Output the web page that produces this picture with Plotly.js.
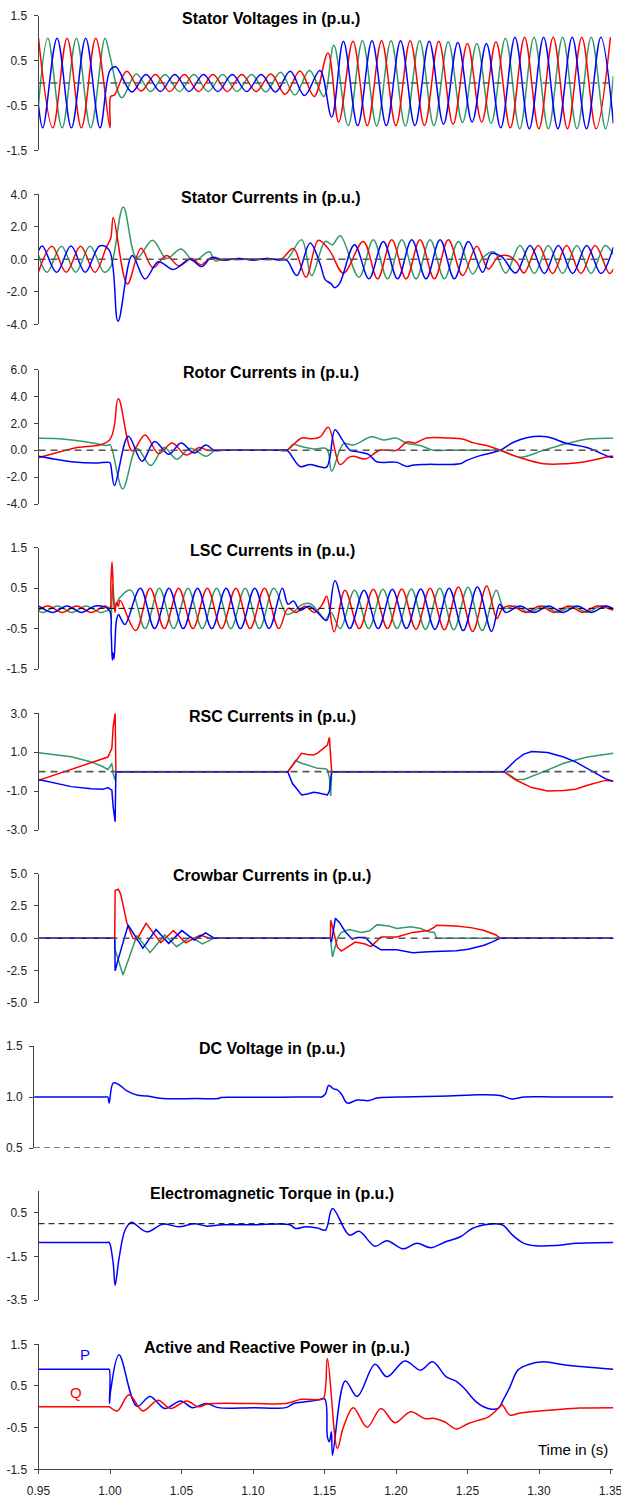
<!DOCTYPE html>
<html><head><meta charset="utf-8">
<script src="https://cdn.plot.ly/plotly-3.0.1.min.js"></script>
<style>html,body{margin:0;padding:0;background:#fff}#chart{width:621px;height:1501px}</style>
</head><body><div id="chart"></div>
<script>
// ---------- DATA ----------
const xTickVals = [0.95,1.00,1.05,1.10,1.15,1.20,1.25,1.30,1.35];
const xTickText = ['0.95','1.00','1.05','1.10','1.15','1.20','1.25','1.30','1.35'];

// Stator voltages
const svRedT = [0.950,0.960,0.970,0.980,0.990,1.000,1.0005,1.003,1.0117,1.0217,1.0318,1.0418,1.052,1.062,1.072,1.082,1.0922,1.1022,1.1125,1.1225,1.1328,1.1428,1.1524,1.1599,1.1699,1.1799,1.1899,1.1999,1.2099,1.2199,1.2299,1.2399,1.2499,1.2599,1.2699,1.2799,1.2899,1.2999,1.3099,1.3199,1.3299,1.3399,1.3499];
const svRedV = [1.0,-1.0,1.0,-1.0,1.0,-1.0,-0.3,-0.27,0.26,-0.18,0.19,-0.19,0.19,-0.19,0.19,-0.19,0.19,-0.19,0.2,-0.25,0.27,-0.3,0.67,-0.87,0.93,-0.95,0.94,-0.95,0.94,-0.95,0.93,-0.92,0.88,-0.87,0.92,-1.0,1.02,-1.02,1.02,-1.02,1.02,-1.02,1.02];
const svBlueT = [0.950,0.953,0.963,0.973,0.983,0.993,1.0,1.004,1.0152,1.0252,1.0352,1.0453,1.0553,1.0654,1.0754,1.0855,1.0955,1.1057,1.1158,1.126,1.136,1.1468,1.155,1.1632,1.1732,1.1832,1.1932,1.2032,1.2132,1.2232,1.2332,1.2432,1.2532,1.2632,1.2732,1.2832,1.2932,1.3032,1.3132,1.3232,1.3332,1.3432,1.352];
const svBlueV = [-0.5,-1.0,1.0,-1.0,1.0,-1.0,0.28,0.36,-0.2,0.19,-0.19,0.19,-0.19,0.19,-0.19,0.19,-0.19,0.19,-0.2,0.26,-0.28,0.28,-0.76,0.93,-0.95,0.94,-0.95,0.94,-0.95,0.93,-0.92,0.9,-0.87,0.88,-1.0,1.02,-1.02,1.02,-1.02,1.02,-1.02,1.02,-0.9];
const svGreenT = [0.950,0.9565,0.9665,0.9765,0.9865,0.9965,1.0,1.0082,1.0184,1.0284,1.0385,1.0485,1.0587,1.0687,1.0788,1.0888,1.099,1.109,1.1192,1.1292,1.1395,1.1495,1.1565,1.1665,1.1765,1.1865,1.1965,1.2065,1.2165,1.2265,1.2365,1.2465,1.2565,1.2665,1.2765,1.2865,1.2965,1.3065,1.3165,1.3265,1.3365,1.3465,1.352];
const svGreenV = [-0.5,1.0,-1.0,1.0,-1.0,1.0,0.6,-0.33,0.2,-0.19,0.19,-0.19,0.19,-0.19,0.19,-0.19,0.19,-0.2,0.24,-0.27,0.28,-0.3,0.84,-0.95,0.94,-0.96,0.94,-0.96,0.94,-0.95,0.92,-0.88,0.88,-0.9,1.0,-1.02,1.02,-1.02,1.02,-1.02,1.02,-1.02,0.16];

// Stator currents
const siRedT = [0.950,0.9594,0.9694,0.9794,0.9894,0.9975,1.0005,1.0023,1.0121,1.0217,1.030,1.0395,1.048,1.057,1.0634,1.070,1.080,1.090,1.100,1.110,1.1195,1.1283,1.137,1.1457,1.1535,1.1632,1.1771,1.1871,1.197,1.207,1.2168,1.2268,1.2366,1.2466,1.2564,1.2645,1.2715,1.279,1.2845,1.2895,1.2995,1.3095,1.3193,1.3293,1.3392,1.3492,1.352];
const siRedV = [-0.78,0.8,-0.8,0.8,-0.8,0.75,1.3,2.58,-1.52,0.68,-0.52,0.23,-0.4,0.05,-0.35,0.05,-0.05,0.05,-0.05,0.05,0.0,0.66,-1.1,1.17,0.55,-0.85,1.1,-1.2,1.2,-1.2,1.2,-1.2,1.2,-1.0,0.8,-0.6,0.15,0.2,-0.2,-0.85,0.85,-0.87,0.85,-0.87,0.85,-0.87,-0.6];
const siBlueT = [0.950,0.9527,0.9627,0.9727,0.9827,0.9927,0.9995,1.0056,1.0155,1.0245,1.0338,1.0443,1.0559,1.0641,1.0711,1.080,1.090,1.100,1.110,1.1195,1.1236,1.1306,1.1399,1.147,1.1505,1.1545,1.157,1.1605,1.171,1.1811,1.1911,1.2011,1.211,1.221,1.2308,1.2408,1.2506,1.2606,1.2665,1.274,1.2837,1.2937,1.3037,1.3135,1.3235,1.3333,1.3433,1.352];
const siBlueV = [0.53,0.82,-0.8,0.82,-0.8,0.82,0.55,-3.81,0.23,-1.21,-0.15,-0.63,0.0,-0.45,0.12,-0.05,0.05,-0.05,0.05,-0.05,-0.05,-1.0,1.0,-0.3,-1.25,-1.5,-1.75,-1.5,0.9,-1.2,1.1,-1.2,1.2,-1.2,1.2,-1.2,1.1,-0.8,0.35,0.15,-0.85,0.85,-0.87,0.85,-0.87,0.85,-0.87,0.75];
const siGreenT = [0.950,0.956,0.966,0.976,0.986,0.996,1.0005,1.0093,1.0187,1.0298,1.0395,1.0497,1.0585,1.0695,1.0735,1.080,1.090,1.100,1.110,1.1195,1.1236,1.134,1.141,1.1505,1.1555,1.161,1.1741,1.1841,1.1941,1.204,1.214,1.2238,1.2338,1.2436,1.2536,1.2606,1.2685,1.2767,1.2867,1.2967,1.3065,1.3165,1.3264,1.3364,1.3462,1.352];
const siGreenV = [0.25,-0.8,0.8,-0.8,0.8,-0.8,-0.45,3.22,0.08,1.17,0.05,0.64,-0.1,0.46,-0.1,0.03,-0.03,0.03,-0.03,0.03,0.0,1.21,-1.0,1.1,0.9,1.45,-1.1,1.2,-1.2,1.2,-1.2,1.2,-1.2,1.1,-0.9,0.1,0.45,-0.85,0.85,-0.87,0.85,-0.87,0.85,-0.87,0.85,0.3];

// Rotor currents
const rcRedT = [0.95,0.9745,0.9995,1.0058,1.0155,1.0245,1.034,1.0434,1.0532,1.0625,1.068,1.075,1.10,1.118,1.1236,1.134,1.141,1.1469,1.1527,1.1608,1.1667,1.1702,1.1784,1.1888,1.2005,1.2075,1.2133,1.2215,1.2355,1.2471,1.2541,1.2634,1.2728,1.2867,1.3031,1.3194,1.3311,1.3497,1.352];
const rcRedV = [-0.55,0.15,0.75,3.83,-0.05,1.14,-0.25,0.55,-0.35,0.2,0.0,0.0,0.0,0.0,0.0,0.92,0.85,1.0,1.71,-1.06,-0.55,-0.45,-0.65,0.0,0.0,0.62,0.55,0.92,0.92,0.82,0.55,0.35,0.0,-0.55,-1.0,-1.0,-0.87,-0.45,-0.42];
const rcBlueT = [0.95,0.975,0.99,0.9995,1.0003,1.0031,1.0128,1.0224,1.0312,1.0411,1.0497,1.059,1.067,1.0727,1.08,1.10,1.118,1.1236,1.1329,1.1399,1.1457,1.1515,1.1573,1.162,1.1679,1.1725,1.1807,1.1865,1.2005,1.2075,1.2122,1.2215,1.2448,1.2495,1.2588,1.2728,1.2821,1.2914,1.3054,1.3194,1.3334,1.3497,1.352];
const rcBlueV = [-0.45,-0.88,-0.95,-0.9,-1.0,-2.63,1.04,-0.82,0.66,-0.3,0.55,-0.2,0.4,0.0,0.0,0.0,0.0,0.0,-1.21,-1.05,-1.2,-1.25,1.52,0.85,0.0,-0.1,-0.3,-0.85,-0.9,-1.2,-1.1,-1.05,-1.0,-0.75,-0.4,0.0,0.6,0.94,1.0,0.5,0.2,-0.5,-0.52];
const rcGreenT = [0.95,0.962,0.975,0.99,0.998,1.0,1.0089,1.0187,1.0285,1.0378,1.0467,1.056,1.0673,1.0735,1.08,1.10,1.118,1.1236,1.1282,1.1329,1.1422,1.1515,1.155,1.1632,1.1702,1.183,1.1912,1.2005,1.2075,1.2168,1.2262,1.235,1.265,1.2728,1.2867,1.3031,1.3194,1.3357,1.352];
const rcGreenV = [0.9,0.88,0.75,0.5,0.35,0.42,-2.88,0.15,-1.13,0.2,-0.66,0.15,-0.45,0.0,0.0,0.0,0.0,0.0,0.45,0.3,0.1,0.1,-1.56,0.47,0.4,1.0,0.77,0.9,0.52,0.35,0.0,0.0,0.0,0.0,-0.52,0.0,0.5,0.85,0.9];

// LSC currents
const lscRedT = [0.95,0.9567,0.9667,0.9767,0.9867,0.9967,0.9998,1.0006,1.0014,1.0025,1.0035,1.0045,1.0058,1.007,1.018,1.028,1.038,1.048,1.058,1.068,1.078,1.088,1.098,1.108,1.118,1.1245,1.13,1.1365,1.143,1.1485,1.1515,1.1567,1.1643,1.1743,1.1841,1.1941,1.204,1.214,1.2238,1.2338,1.2436,1.2536,1.2634,1.2705,1.2745,1.2807,1.2907,1.3007,1.3107,1.3207,1.3307,1.3407,1.352];
const lscRedV = [-0.04,0.06,-0.1,0.06,-0.1,0.06,0.0,0.6,1.15,0.3,-0.1,0.15,0.05,0.2,-0.55,0.5,-0.5,0.5,-0.5,0.5,-0.5,0.5,-0.5,0.5,-0.5,0.0,-0.1,0.05,-0.1,0.1,0.3,-0.58,0.45,-0.5,0.47,-0.5,0.48,-0.52,0.5,-0.53,0.53,-0.57,0.55,-0.25,0.0,0.06,-0.1,0.06,-0.1,0.06,-0.1,0.06,-0.05];
const lscBlueT = [0.95,0.96,0.97,0.98,0.99,0.9995,1.0008,1.0016,1.002,1.0028,1.0045,1.006,1.0075,1.0105,1.0212,1.0312,1.0412,1.0512,1.0612,1.0712,1.0812,1.0912,1.1012,1.1112,1.1205,1.1245,1.1282,1.133,1.139,1.145,1.1515,1.1573,1.1676,1.1776,1.1875,1.1974,1.2073,1.2173,1.2272,1.2371,1.247,1.2569,1.2668,1.2725,1.2767,1.2867,1.2967,1.3067,1.3167,1.3267,1.3367,1.3467,1.352];
const lscBlueV = [0.06,-0.1,0.06,-0.1,0.06,-0.05,-0.6,-1.28,-1.1,-1.25,-0.3,-0.15,-0.25,-0.4,0.5,-0.5,0.5,-0.5,0.5,-0.5,0.5,-0.5,0.5,-0.5,0.5,0.1,0.18,-0.05,0.05,-0.1,-0.3,0.68,-0.5,0.45,-0.5,0.47,-0.5,0.48,-0.52,0.5,-0.55,0.53,-0.57,0.1,-0.1,0.06,-0.1,0.06,-0.1,0.06,-0.1,0.06,-0.02];
const lscGreenT = [0.95,0.9533,0.9633,0.9733,0.9833,0.9933,1.0,1.0008,1.0018,1.0032,1.0045,1.0065,1.0145,1.0245,1.0345,1.0445,1.0545,1.0645,1.0745,1.0845,1.0945,1.1045,1.1145,1.1236,1.128,1.1335,1.1395,1.145,1.1505,1.1545,1.161,1.171,1.1809,1.1908,1.2007,1.2107,1.2206,1.2305,1.2404,1.2503,1.2602,1.2701,1.2755,1.2833,1.2933,1.3033,1.3133,1.3233,1.3333,1.3433,1.352];
const lscGreenV = [-0.06,-0.1,0.06,-0.1,0.06,-0.1,-0.05,-0.25,0.59,0.05,0.1,0.25,0.45,-0.5,0.5,-0.5,0.5,-0.5,0.5,-0.5,0.5,-0.5,0.5,-0.15,-0.1,0.08,0.12,-0.05,-0.28,-0.1,-0.5,0.45,-0.5,0.47,-0.5,0.48,-0.52,0.5,-0.53,0.52,-0.55,0.45,0.0,0.06,-0.1,0.06,-0.1,0.06,-0.1,0.06,0.0];

// RSC currents
const rscRedT = [0.95,0.973,0.9985,1.0013,1.0022,1.0036,1.0041,1.1243,1.134,1.1381,1.1423,1.1451,1.1506,1.152,1.1534,1.155,1.2755,1.2838,1.2949,1.306,1.3172,1.3255,1.3338,1.3463,1.352];
const rscRedV = [-0.45,0.1,0.75,1.2,2.3,3.0,0.0,0.0,0.94,0.88,0.86,0.95,1.3,1.37,1.76,0.0,0.0,-0.43,-0.82,-1.0,-0.97,-0.9,-0.7,-0.45,-0.48];
const rscBlueT = [0.95,0.973,0.9869,0.9952,0.9985,1.0013,1.0022,1.0036,1.0041,1.1243,1.1275,1.134,1.1381,1.1423,1.1451,1.1506,1.152,1.1534,1.155,1.2755,1.2838,1.2894,1.2949,1.306,1.3172,1.3255,1.3338,1.3463,1.352];
const rscBlueV = [-0.4,-0.77,-0.88,-0.91,-0.82,-0.95,-1.8,-2.57,0.0,0.0,-0.6,-1.2,-1.15,-1.06,-1.08,-1.2,-1.2,-1.0,0.0,0.0,0.6,0.9,1.03,0.98,0.75,0.5,0.15,-0.36,-0.5];
const rscGreenT = [0.95,0.973,0.9869,0.9952,0.9985,1.0013,1.0022,1.0036,1.0041,1.1243,1.1298,1.134,1.1381,1.1451,1.1506,1.152,1.1534,1.1543,1.155,1.2755,1.2838,1.2894,1.3033,1.3172,1.3338,1.352];
const rscGreenV = [0.97,0.77,0.5,0.25,0.1,0.43,-0.1,-0.45,0.0,0.0,0.57,0.43,0.34,0.17,0.15,0.1,-0.3,-1.25,0.0,0.0,-0.39,-0.4,0.0,0.43,0.75,0.95];

// Crowbar currents
const cbRedT = [0.95,1.0033,1.0036,1.0058,1.0075,1.0095,1.0118,1.016,1.0188,1.0252,1.0355,1.0443,1.0529,1.0632,1.0695,1.1541,1.1543,1.1553,1.159,1.1618,1.1673,1.1715,1.1784,1.1825,1.1895,1.2006,1.2117,1.2228,1.2269,1.2283,1.2422,1.2533,1.2616,1.2699,1.2727,1.352];
const cbRedV = [0.0,0.0,3.7,3.8,3.4,2.4,1.2,0.0,-0.1,1.15,-0.35,0.6,-0.35,0.25,0.0,0.0,1.4,1.0,-0.7,-1.0,-0.6,-0.3,-0.45,-0.65,0.1,0.1,0.45,0.6,0.85,1.0,0.95,0.8,0.6,0.25,0.0,0.0];
const cbBlueT = [0.95,1.0033,1.0036,1.0058,1.0127,1.023,1.0322,1.041,1.0502,1.059,1.0668,1.0729,1.1541,1.1548,1.1576,1.1605,1.1645,1.1694,1.1728,1.1785,1.1835,1.1895,1.2006,1.2117,1.2228,1.2422,1.2505,1.2616,1.267,1.2727,1.352];
const cbBlueV = [0.0,0.0,-2.52,-1.6,1.02,-0.78,0.67,-0.4,0.59,-0.15,0.41,0.0,0.0,-0.3,1.54,1.2,0.5,-0.08,0.05,0.05,-0.5,-0.9,-0.9,-1.12,-1.05,-0.98,-0.85,-0.55,-0.3,0.0,0.0];
const cbGreenT = [0.95,1.0033,1.0036,1.0091,1.0188,1.028,1.0383,1.0466,1.0563,1.0646,1.0729,1.1541,1.1556,1.159,1.1618,1.1673,1.1757,1.1812,1.1868,1.195,1.2006,1.2103,1.2172,1.2228,1.2269,1.2283,1.352];
const cbGreenV = [0.0,0.0,-0.9,-2.85,0.2,-1.12,0.25,-0.66,0.1,-0.45,0.0,0.0,-1.45,0.0,0.45,0.67,0.45,0.55,1.05,0.95,0.75,0.88,0.75,0.5,0.45,0.0,0.0];

// DC voltage
const dcT = [0.947,0.99,0.997,0.9985,0.9994,1.0022,1.0063,1.0119,1.0188,1.0257,1.0369,1.06,1.0757,1.0775,1.09,1.109,1.13,1.145,1.1478,1.1506,1.1529,1.1562,1.159,1.1618,1.1659,1.1728,1.1811,1.1866,1.2006,1.2366,1.2533,1.2727,1.2811,1.2838,1.29,1.31,1.352];
const dcV = [1.0,1.0,1.0,1.0,0.94,1.137,1.12,1.06,1.02,1.01,0.985,0.985,0.985,0.995,0.997,0.998,0.999,1.0,1.0,1.03,1.114,1.08,1.07,1.03,0.94,0.97,0.965,0.99,1.0,1.01,1.02,1.015,0.98,0.985,1.0,1.0,1.0];

// Electromagnetic torque
const teT = [0.95,0.99,0.998,0.9994,1.0022,1.0036,1.0063,1.0105,1.0147,1.0161,1.0257,1.0369,1.048,1.0591,1.0674,1.0785,1.10,1.1257,1.1298,1.1368,1.1451,1.1506,1.1556,1.1673,1.1742,1.1853,1.1936,1.2048,1.2145,1.2242,1.2339,1.245,1.2533,1.2644,1.2727,1.2755,1.2811,1.2894,1.2977,1.3116,1.3255,1.352];
const teV = [-0.86,-0.86,-0.86,-0.86,-1.8,-2.82,-1.6,-0.3,0.06,0.05,-0.37,-0.02,-0.14,0.0,-0.11,-0.05,-0.05,-0.05,-0.22,-0.14,-0.2,-0.29,0.7,-0.52,-0.35,-1.03,-0.78,-1.15,-0.9,-1.1,-0.85,-0.6,-0.22,-0.03,-0.02,-0.1,-0.5,-0.9,-1.01,-1.0,-0.9,-0.86];

// Active (P) and reactive (Q) power
const pT = [0.95,0.99,0.998,0.9994,0.9996,1.0005,1.0063,1.0188,1.028,1.0383,1.0494,1.0577,1.0674,1.0757,1.10,1.1229,1.1285,1.1368,1.1451,1.1501,1.152,1.1534,1.1548,1.1556,1.1645,1.1728,1.1853,1.1936,1.2062,1.2172,1.2255,1.2352,1.2422,1.2478,1.2561,1.2644,1.2713,1.2755,1.2797,1.2852,1.2922,1.3033,1.3172,1.331,1.352];
const pV = [0.9,0.9,0.9,0.9,0.08,0.4,1.25,0.01,0.25,-0.04,0.14,-0.02,0.08,-0.02,-0.02,-0.02,0.08,0.12,0.16,0.19,-0.72,-0.84,-0.6,-1.16,0.62,0.25,1.02,0.72,1.1,0.88,1.08,0.72,0.61,0.44,0.12,-0.04,-0.04,0.2,0.48,0.88,1.01,1.08,1.01,0.96,0.9];
const qT = [0.95,0.99,0.998,0.9994,1.005,1.0133,1.023,1.0335,1.0424,1.0535,1.0618,1.0674,1.0729,1.10,1.1229,1.134,1.1451,1.1492,1.152,1.159,1.1631,1.1701,1.1798,1.1895,1.1992,1.2103,1.22,1.2269,1.2339,1.2422,1.2506,1.2589,1.2644,1.2727,1.2741,1.2797,1.2866,1.3005,1.3116,1.3283,1.352];
const qV = [0.0,0.0,0.0,0.0,-0.1,0.29,-0.1,0.16,-0.04,0.14,0.0,0.06,0.08,0.08,0.08,0.18,0.17,0.2,1.16,-1.0,-0.5,-0.02,-0.49,-0.04,-0.38,-0.12,-0.28,-0.28,-0.36,-0.53,-0.4,-0.31,-0.25,0.0,0.05,-0.2,-0.15,-0.1,-0.07,-0.03,-0.02];

// ---------- LAYOUT / DRAWING ----------
const RED = '#ff0000', BLUE = '#0000ff', GREEN = '#339966';
const W = 621, H = 1501;
const X0 = 38.5, X1 = 613.4, PXS = 1430;
const fy = p => 1 - p / H;

const panels = [
  {title:'Stator Voltages in (p.u.)', top:15.7, bot:150.3, range:[-1.5,1.5], tv:[1.5,0.5,-0.5,-1.5], tt:['1.5','0.5','-0.5','-1.5'], ref:0, refStyle:'g', ty:18.5, tx:271,
   series:[[svGreenT,svGreenV,GREEN],[svRedT,svRedV,RED],[svBlueT,svBlueV,BLUE]], shape:'spline'},
  {title:'Stator Currents in (p.u.)', top:194.3, bot:324.3, range:[-4,4], tv:[4,2,0,-2,-4], tt:['4.0','2.0','0.0','-2.0','-4.0'], ref:0, refStyle:'g', ty:197, tx:271,
   series:[[siGreenT,siGreenV,GREEN],[siRedT,siRedV,RED],[siBlueT,siBlueV,BLUE]], shape:'spline'},
  {title:'Rotor Currents in (p.u.)', top:369.7, bot:504, range:[-4,6], tv:[6,4,2,0,-2,-4], tt:['6.0','4.0','2.0','0.0','-2.0','-4.0'], ref:0, refStyle:'g', ty:372, tx:271,
   series:[[rcGreenT,rcGreenV,GREEN],[rcRedT,rcRedV,RED],[rcBlueT,rcBlueV,BLUE]], shape:'spline'},
  {title:'LSC Currents in (p.u.)', top:547.7, bot:669, range:[-1.5,1.5], tv:[1.5,0.5,-0.5,-1.5], tt:['1.5','0.5','-0.5','-1.5'], ref:0, refStyle:'k', ty:551, tx:272,
   series:[[lscGreenT,lscGreenV,GREEN],[lscRedT,lscRedV,RED],[lscBlueT,lscBlueV,BLUE]], shape:'spline'},
  {title:'RSC Currents in (p.u.)', top:713.3, bot:830, range:[-3,3], tv:[3,1,-1,-3], tt:['3.0','1.0','-1.0','-3.0'], ref:0, refStyle:'g', ty:716, tx:272,
   series:[[rscGreenT,rscGreenV,GREEN],[rscRedT,rscRedV,RED],[rscBlueT,rscBlueV,BLUE]], shape:'linear'},
  {title:'Crowbar Currents in (p.u.)', top:873.7, bot:1002.7, range:[-5,5], tv:[5,2.5,0,-2.5,-5], tt:['5.0','2.5','0.0','-2.5','-5.0'], ref:0, refStyle:'g', ty:876, tx:272,
   series:[[cbGreenT,cbGreenV,GREEN],[cbRedT,cbRedV,RED],[cbBlueT,cbBlueV,BLUE]], shape:'linear'},
  {title:'DC Voltage in (p.u.)', top:1046, bot:1148, range:[0.5,1.5], tv:[1.5,1.0,0.5], tt:['1.5','1.0','0.5'], ref:0.5, refStyle:'k', ty:1048.5, tx:272,
   series:[[dcT,dcV,BLUE]], shape:'spline', xa:'x2'},
  {title:'Electromagnetic Torque in (p.u.)', top:1191, bot:1300, range:[-3.5,1.5], tv:[0.5,-1.5,-3.5], tt:['0.5','-1.5','-3.5'], ref:0, refStyle:'k', ty:1193.5, tx:272,
   series:[[teT,teV,BLUE]], shape:'spline'},
  {title:'Active and Reactive Power in (p.u.)', top:1344.3, bot:1469.3, range:[-1.5,1.5], tv:[1.5,0.5,-0.5,-1.5], tt:['1.5','0.5','-0.5','-1.5'], ref:null, ty:1347, tx:277,
   series:[[pT,pV,BLUE],[qT,qV,RED]], shape:'spline'}
];

const traces = [];
const AX = '#444';
const DCX0 = 34;
const layout = {
  width: W, height: H,
  margin: {l:0, r:0, t:0, b:0},
  paper_bgcolor: '#ffffff', plot_bgcolor: 'rgba(0,0,0,0)',
  showlegend: false,
  font: {family: 'Liberation Sans, Arial, sans-serif', size: 12, color: '#222'},
  xaxis: {
    domain: [X0 / W, X1 / W], range: [0.95, 1.352], anchor: 'y9',
    showline: true, linecolor: AX, linewidth: 1,
    ticks: 'outside', ticklen: 4, tickcolor: AX,
    tickvals: xTickVals, ticktext: xTickText, ticklabelstandoff: 6, ticklabeloverflow: 'allow',
    tickfont: {size: 12, color: '#222'},
    showgrid: false, zeroline: false, fixedrange: true
  },
  xaxis2: {
    domain: [DCX0 / W, X1 / W], range: [0.95 - (X0 - DCX0) / PXS, 1.352], anchor: 'y7',
    visible: false, showgrid: false, zeroline: false, fixedrange: true
  },
  shapes: [], annotations: []
};

panels.forEach((p, i) => {
  const yid = i === 0 ? 'y' : 'y' + (i + 1);
  const key = i === 0 ? 'yaxis' : 'yaxis' + (i + 1);
  const xa = p.xa || 'x';
  layout[key] = {
    domain: [fy(p.bot), fy(p.top)], range: p.range, anchor: xa,
    showline: true, linecolor: AX, linewidth: 1,
    ticks: 'outside', ticklen: 4, tickcolor: AX,
    tickvals: p.tv, ticktext: p.tt, tickfont: {size: 12, color: '#222'}, ticklabelstandoff: 4,
    showgrid: false, zeroline: false, fixedrange: true
  };
  if (p.ref !== null) {
    const gray = p.refStyle === 'g';
    layout.shapes.push({
      type: 'line', xref: 'paper', yref: yid,
      x0: (xa === 'x2' ? DCX0 : X0) / W, x1: X1 / W, y0: p.ref, y1: p.ref,
      line: {color: gray ? '#555555' : '#000000', width: gray ? 1.6 : 1, dash: gray ? '7px,5px' : '6px,4px'},
      layer: 'above'
    });
  }
  layout.annotations.push({
    xref: 'paper', yref: 'paper', x: p.tx / W, y: fy(p.ty), xanchor: 'center', yanchor: 'middle',
    text: '<b>' + p.title + '</b>', showarrow: false, font: {size: 16, color: '#000'}
  });
  p.series.forEach(s => {
    traces.push({
      type: 'scatter', mode: 'lines', x: s[0], y: s[1], xaxis: xa, yaxis: yid,
      line: {color: s[2], width: 1.5, shape: p.shape, smoothing: 1},
      hoverinfo: 'skip'
    });
  });
});

layout.annotations.push(
  {xref:'paper', yref:'paper', x: 85 / W, y: fy(1354), xanchor:'center', yanchor:'middle', text:'P', showarrow:false, font:{size:15, color: BLUE}},
  {xref:'paper', yref:'paper', x: 76 / W, y: fy(1392), xanchor:'center', yanchor:'middle', text:'Q', showarrow:false, font:{size:15, color: RED}},
  {xref:'paper', yref:'paper', x: 610 / W, y: fy(1449), xanchor:'right', yanchor:'middle', text:'Time in (s)', showarrow:false, font:{size:15, color:'#000'}}
);

Plotly.newPlot('chart', traces, layout, {displayModeBar: false, staticPlot: true});
</script></body></html>
